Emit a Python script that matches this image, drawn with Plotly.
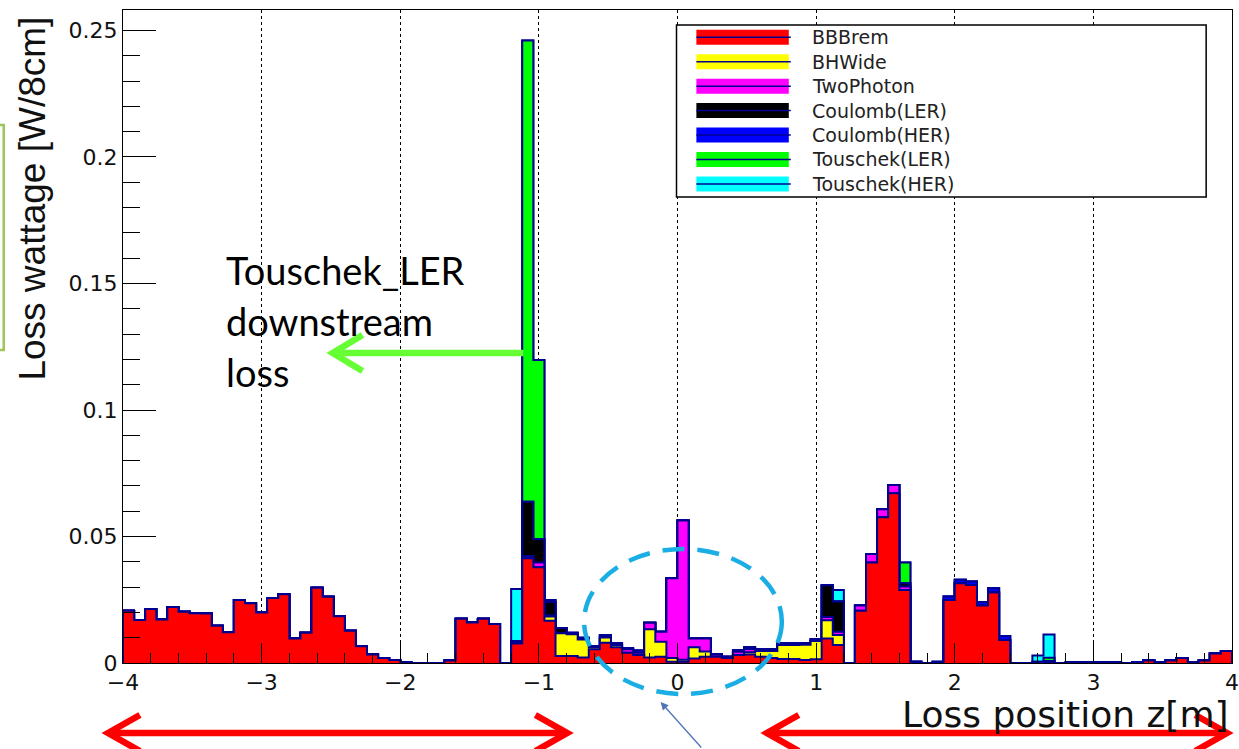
import numpy as np
import plotly.graph_objects as go

# Loss position binning: 8 cm bins from -4 m to +4 m
Z_MIN, Z_MAX, N_BINS = -4.0, 4.0, 100

# Loss wattage per 8 cm bin [W/8cm], one list per loss source (stack order bottom -> top)
bbbrem = [
    0.0207, 0.0170, 0.0213, 0.0172, 0.0221, 0.0203, 0.0197, 0.0196, 0.0147, 0.0122,
    0.0249, 0.0236, 0.0200, 0.0257, 0.0272, 0.0097, 0.0120, 0.0297, 0.0262, 0.0185,
    0.0127, 0.0066, 0.0034, 0.0020, 0.0012, 0.0003, 0.0, 0.0, 0.0, 0.0010,
    0.0175, 0.0160, 0.0175, 0.0154, 0.0, 0.0077, 0.0414, 0.0378, 0.0167, 0.0028,
    0.0028, 0.0022, 0.0054, 0.0080, 0.0062, 0.0041, 0.0032, 0.0022, 0.0025, 0.0005,
    0.0005, 0.0018, 0.0025, 0.0025, 0.0020, 0.0032, 0.0034, 0.0025, 0.0020, 0.0016,
    0.0016, 0.0012, 0.0015, 0.0097, 0.0071, 0.0, 0.0207, 0.0397, 0.0576, 0.0671,
    0.0289, 0.0, 0.0, 0.0, 0.0249, 0.0315, 0.0308, 0.0227, 0.0279, 0.0091,
    0.0, 0.0, 0.0, 0.0, 0.0, 0.0, 0.0, 0.0, 0.0, 0.0,
    0.0, 0.0, 0.0010, 0.0, 0.0010, 0.0020, 0.0, 0.0010, 0.0038, 0.0047,
]
bhwide = [
    0, 0, 0, 0, 0, 0, 0, 0, 0, 0,
    0, 0, 0, 0, 0, 0, 0, 0, 0, 0,
    0, 0, 0, 0, 0, 0, 0, 0, 0, 0,
    0, 0, 0, 0, 0, 0, 0, 0, 0.0017, 0.0090,
    0.0086, 0.0071, 0.0008, 0.0021, 0.0009, 0, 0, 0.0111, 0.0059, 0.0015,
    0.0008, 0.0044, 0.0020, 0, 0, 0, 0.0008, 0.0022, 0.0027, 0.0055,
    0.0055, 0.0060, 0.0072, 0.0072, 0.0040, 0, 0, 0, 0, 0,
    0, 0, 0, 0, 0, 0, 0, 0, 0, 0,
    0, 0, 0, 0, 0, 0, 0, 0, 0, 0,
    0, 0, 0, 0, 0, 0, 0, 0, 0, 0,
]
two_photon = [
    0, 0, 0, 0, 0, 0, 0, 0, 0, 0,
    0, 0, 0, 0, 0, 0, 0, 0, 0, 0,
    0, 0, 0, 0, 0, 0, 0, 0, 0, 0,
    0, 0, 0, 0, 0, 0, 0.0009, 0.0019, 0.0005, 0,
    0, 0, 0, 0, 0, 0.0013, 0.0009, 0.0026, 0.0040, 0.0315,
    0.0550, 0.0035, 0.0052, 0.0008, 0.0005, 0.0012, 0.0013, 0, 0, 0,
    0, 0, 0, 0.0013, 0.0013, 0, 0.0020, 0.0034, 0.0032, 0.0033,
    0.0013, 0, 0, 0, 0, 0, 0, 0, 0, 0,
    0, 0, 0, 0, 0, 0, 0, 0, 0, 0,
    0, 0, 0, 0, 0, 0, 0, 0, 0, 0,
]
coulomb_ler = [
    0, 0, 0, 0, 0, 0, 0, 0, 0, 0,
    0, 0, 0, 0, 0, 0, 0, 0, 0, 0,
    0, 0, 0, 0, 0, 0, 0, 0, 0, 0,
    0, 0, 0, 0, 0, 0, 0.0214, 0.0092, 0.0052, 0.0020,
    0, 0, 0, 0, 0, 0, 0, 0, 0, 0,
    0, 0, 0, 0, 0, 0, 0, 0, 0, 0,
    0, 0, 0, 0.0125, 0.0119, 0, 0, 0, 0, 0,
    0.0013, 0, 0, 0, 0, 0, 0, 0, 0, 0,
    0, 0, 0, 0, 0, 0, 0, 0, 0, 0,
    0, 0, 0, 0, 0, 0, 0, 0, 0, 0,
]
coulomb_her = [
    0, 0, 0, 0, 0, 0, 0, 0, 0, 0,
    0, 0, 0, 0, 0, 0, 0, 0, 0, 0,
    0, 0, 0, 0, 0, 0, 0, 0, 0, 0,
    0, 0, 0, 0, 0, 0.0010, 0, 0, 0, 0,
    0.0006, 0.0007, 0.0005, 0.0009, 0.0007, 0.0004, 0.0008, 0, 0, 0,
    0, 0, 0, 0.0003, 0, 0.0007, 0.0007, 0.0007, 0.0007, 0.0007,
    0.0007, 0.0006, 0.0007, 0, 0, 0, 0, 0, 0, 0,
    0, 0, 0, 0.0005, 0.0014, 0.0014, 0.0014, 0.0014, 0.0016, 0.0016,
    0, 0, 0.0005, 0.0008, 0, 0.0004, 0.0004, 0.0004, 0.0004, 0.0004,
    0, 0.0004, 0, 0.0004, 0, 0, 0.0004, 0, 0, 0,
]
touschek_ler = [
    0, 0, 0, 0, 0, 0, 0, 0, 0, 0,
    0, 0, 0, 0, 0, 0, 0, 0, 0, 0,
    0, 0, 0, 0, 0, 0, 0, 0, 0, 0,
    0, 0, 0, 0, 0, 0, 0.1823, 0.0709, 0.0008, 0,
    0, 0, 0, 0, 0, 0, 0, 0, 0, 0,
    0, 0, 0, 0, 0, 0, 0, 0, 0, 0,
    0, 0, 0, 0, 0, 0, 0, 0, 0, 0,
    0.0082, 0.0006, 0, 0, 0, 0, 0, 0, 0, 0,
    0, 0, 0, 0.0013, 0, 0, 0, 0, 0, 0,
    0, 0, 0, 0, 0, 0, 0, 0, 0, 0,
]
touschek_her = [
    0, 0, 0, 0, 0, 0, 0, 0, 0, 0,
    0, 0, 0, 0, 0, 0, 0, 0, 0, 0,
    0, 0, 0, 0, 0, 0, 0, 0, 0, 0,
    0, 0, 0, 0, 0, 0.0205, 0, 0, 0, 0,
    0, 0, 0, 0, 0, 0, 0, 0, 0, 0,
    0, 0, 0, 0, 0, 0, 0, 0, 0, 0,
    0, 0, 0, 0, 0.0046, 0, 0, 0, 0, 0,
    0, 0, 0, 0, 0, 0, 0, 0, 0, 0,
    0, 0, 0.0025, 0.0092, 0, 0, 0, 0, 0, 0,
    0, 0, 0, 0, 0, 0, 0, 0, 0, 0,
]

series_names = ["BBBrem", "BHWide", "TwoPhoton", "Coulomb(LER)",
                "Coulomb(HER)", "Touschek(LER)", "Touschek(HER)"]
series_values = [bbbrem, bhwide, two_photon, coulomb_ler,
                 coulomb_her, touschek_ler, touschek_her]
series_colors = ["#ff0000", "#ffff00", "#ff00ff", "#000000",
                 "#0000ff", "#00ff00", "#00ffff"]
OUTLINE = "#000090"

# Page geometry (pixels) of the frame
W, H = 1239, 749
PL, PR, PT, PB = 123, 1239, 10, 663


def px(x):
    return (x - PL) / (PR - PL)


def py(y):
    return (PB - y) / (PB - PT)


edges = np.linspace(Z_MIN, Z_MAX, N_BINS + 1)
cum = np.cumsum(np.array(series_values, dtype=float), axis=0)

fig = go.Figure()

# THStack-style drawing: each cumulative histogram, from the full stack down to the
# first source, filled with its own colour and outlined as a step line
for k in range(len(series_names) - 1, -1, -1):
    yk = cum[k]
    xs = np.concatenate([[edges[0]], edges[:-1], [edges[-1], edges[-1]]])
    ys = np.concatenate([[0.0], yk, [yk[-1], 0.0]])
    fig.add_trace(go.Scatter(
        x=xs, y=ys, mode="lines", line=dict(shape="hv", color=OUTLINE, width=2),
        fill="tozeroy", fillcolor=series_colors[k], name=series_names[k],
        showlegend=False, hoverinfo="skip",
    ))

tick_font = dict(family="DejaVu Sans", size=22, color="#111111")

fig.update_layout(
    width=W, height=H,
    margin=dict(l=PL, r=W - PR, t=PT, b=H - PB),
    paper_bgcolor="white", plot_bgcolor="white",
    showlegend=False,
    xaxis=dict(
        range=[Z_MIN, Z_MAX], tickmode="linear", tick0=-4, dtick=1,
        ticks="inside", ticklen=20, tickwidth=1, tickcolor="black",
        minor=dict(dtick=0.2, ticks="inside", ticklen=10, tickcolor="black", showgrid=False),
        showgrid=True, gridcolor="black", griddash="dot", gridwidth=1,
        showline=True, linecolor="black", linewidth=1, mirror=True,
        zeroline=False, tickfont=tick_font, ticklabeloverflow="allow",
        ticklabelstandoff=0,
    ),
    yaxis=dict(
        range=[0, 0.2581], tickmode="linear", tick0=0, dtick=0.05,
        ticks="inside", ticklen=33, tickwidth=1, tickcolor="black",
        minor=dict(dtick=0.01, ticks="inside", ticklen=17, tickcolor="black", showgrid=False),
        showgrid=False, showline=True, linecolor="black", linewidth=1, mirror=True,
        zeroline=False, tickfont=tick_font,
    ),
)

shapes = []
annotations = []

# Axis titles
annotations.append(dict(
    text="Loss wattage [W/8cm]", textangle=-90, xref="paper", yref="paper",
    x=px(31), y=py(199), xanchor="center", yanchor="middle", showarrow=False,
    font=dict(family="Liberation Sans", size=37, color="#111111"),
))
annotations.append(dict(
    text="Loss position z[m]", xref="paper", yref="paper",
    x=px(1238), y=py(714), xanchor="right", yanchor="middle", showarrow=False,
    font=dict(family="DejaVu Sans", size=36, color="#111111"),
))

# Legend box
shapes.append(dict(type="rect", xref="paper", yref="paper", layer="above",
                   x0=px(680), x1=px(1213), y0=py(197), y1=py(25),
                   line=dict(color="black", width=1.5), fillcolor="white"))
row_y = [37.3, 61.7, 86.2, 110.6, 135.0, 159.5, 184.0]
for name, color, yc in zip(series_names, series_colors, row_y):
    shapes.append(dict(type="rect", xref="paper", yref="paper", layer="above",
                       x0=px(700), x1=px(793), y0=py(yc + 7.5), y1=py(yc - 7.5),
                       line=dict(width=0), fillcolor=color))
    shapes.append(dict(type="line", xref="paper", yref="paper", layer="above",
                       x0=px(700), x1=px(795), y0=py(yc), y1=py(yc),
                       line=dict(color=OUTLINE, width=1.5)))
    annotations.append(dict(
        text=name, xref="paper", yref="paper", x=px(814), y=py(yc),
        xanchor="left", yanchor="middle", showarrow=False,
        font=dict(family="DejaVu Sans", size=19, color="#222222"),
    ))

# Callout text for the Touschek LER peak
for line, yc in zip(["Touschek_LER", "downstream", "loss"], [270, 321, 372]):
    annotations.append(dict(
        text=line, xref="paper", yref="paper", x=px(225), y=py(yc),
        xanchor="left", yanchor="middle", showarrow=False,
        font=dict(family="Lato", size=38, color="black"),
    ))

GREEN = "#66ff33"
RED = "#ff0000"


def arrow_line(x0, y0, x1, y1, color, width):
    shapes.append(dict(type="line", xref="paper", yref="paper", layer="above",
                       x0=px(x0), y0=py(y0), x1=px(x1), y1=py(y1),
                       line=dict(color=color, width=width)))


def chevron(tx, ty, direction, color, width, dx=32, dy=18):
    # open arrow head with its tip at (tx, ty); direction -1 points left, +1 right
    path = (f"M {px(tx - direction * dx)},{py(ty - dy)} "
            f"L {px(tx)},{py(ty)} L {px(tx - direction * dx)},{py(ty + dy)}")
    shapes.append(dict(type="path", xref="paper", yref="paper", layer="above",
                       path=path, line=dict(color=color, width=width)))


# Green arrow from the peak toward the callout
arrow_line(526, 353, 336, 353, GREEN, 6.5)
chevron(334, 353, -1, GREEN, 6.5, dx=30, dy=18)

# Red double arrows under the axis
for xa, xb in [(108, 570), (771, 1234)]:
    arrow_line(xa + 3, 733, xb - 3, 733, RED, 6.5)
    chevron(xa, 733, -1, RED, 6.5)
    chevron(xb, 733, 1, RED, 6.5)

# Dashed ellipse around the interaction point
shapes.append(dict(type="circle", xref="paper", yref="paper", layer="above",
                   x0=px(587), x1=px(786), y0=py(694), y1=py(549),
                   line=dict(color="#1aaee5", width=4.5, dash="22px,13px")))

# Thin pointer below the interaction point
annotations.append(dict(
    text="", xref="paper", yref="paper", x=px(664), y=py(702),
    ax=42, ay=48, showarrow=True, arrowhead=2, arrowsize=1.2,
    arrowwidth=1.3, arrowcolor="#4f74b8",
))

# Edge of the neighbouring label box at the left border
shapes.append(dict(type="rect", xref="paper", yref="paper", layer="above",
                   x0=px(-12), x1=px(3), y0=py(350), y1=py(125),
                   line=dict(color="#9cc65a", width=2.5), fillcolor="rgba(0,0,0,0)"))

fig.update_layout(shapes=shapes, annotations=annotations)

fig.write_html("out.html")
